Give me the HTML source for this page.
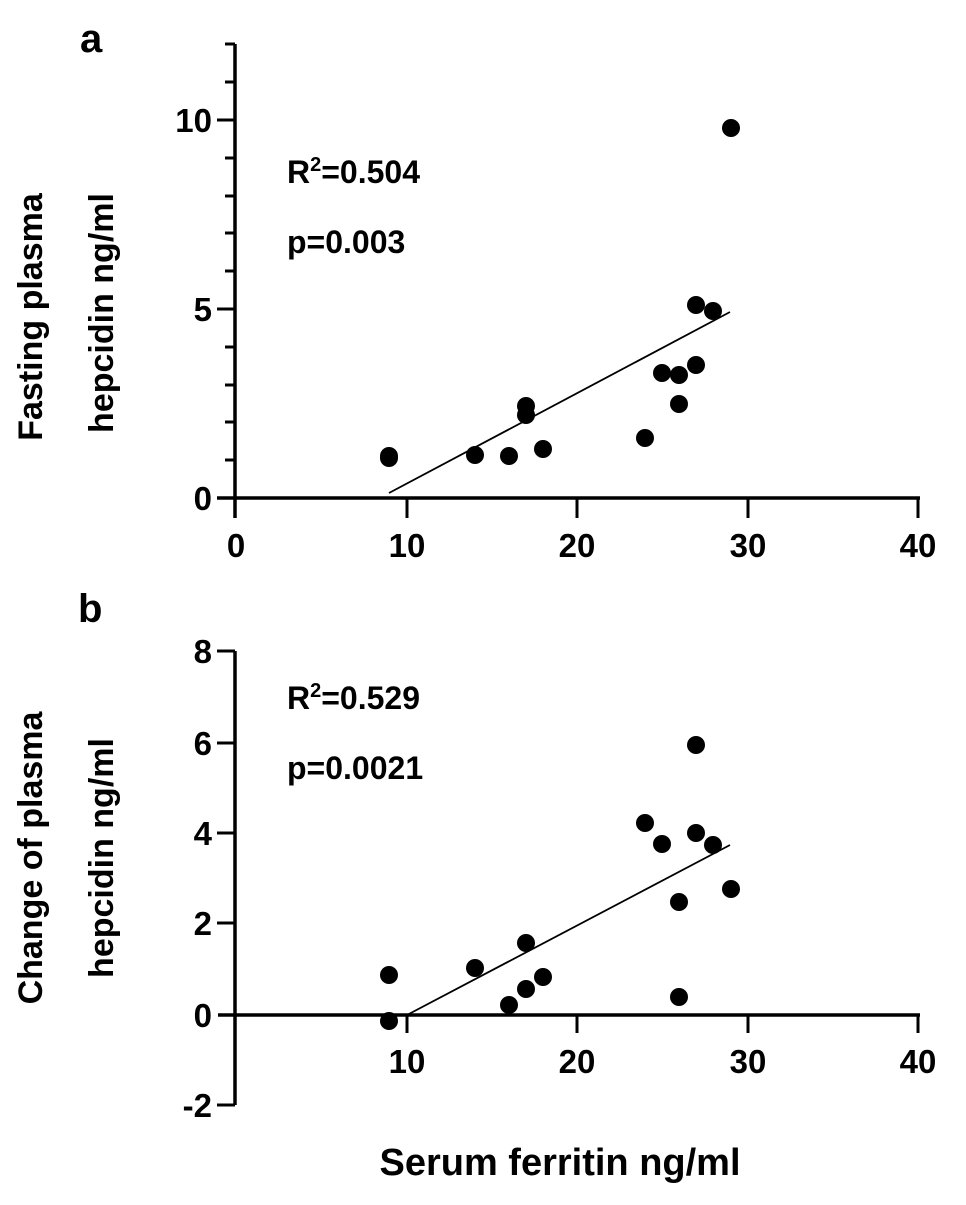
<!DOCTYPE html>
<html><head><style>body{margin:0;background:#fff}</style></head><body>
<svg width="966" height="1200" xmlns="http://www.w3.org/2000/svg" font-family="Liberation Sans, sans-serif" font-weight="bold">
<rect width="966" height="1200" fill="#fff"/>
<g stroke="#000" stroke-width="3.5" fill="none">
<!-- panel a -->
<line x1="235" y1="44" x2="235" y2="518"/>
<line x1="217" y1="498" x2="920" y2="498"/>
<g stroke-width="3">
<line x1="217" y1="120" x2="235" y2="120"/><line x1="217" y1="309" x2="235" y2="309"/>
<line x1="225" y1="44" x2="235" y2="44"/><line x1="225" y1="82" x2="235" y2="82"/>
<line x1="225" y1="158" x2="235" y2="158"/><line x1="225" y1="196" x2="235" y2="196"/>
<line x1="225" y1="233" x2="235" y2="233"/><line x1="225" y1="271" x2="235" y2="271"/>
<line x1="225" y1="347" x2="235" y2="347"/><line x1="225" y1="385" x2="235" y2="385"/>
<line x1="225" y1="422" x2="235" y2="422"/><line x1="225" y1="460" x2="235" y2="460"/>
<line x1="407" y1="498" x2="407" y2="518"/><line x1="577" y1="498" x2="577" y2="518"/>
<line x1="748" y1="498" x2="748" y2="518"/><line x1="918" y1="498" x2="918" y2="518"/>
</g>
<line x1="389" y1="493" x2="730" y2="312" stroke-width="1.8"/>
<!-- panel b -->
<line x1="235" y1="651" x2="235" y2="1105"/>
<line x1="218" y1="1015" x2="920" y2="1015"/>
<g stroke-width="3">
<line x1="217" y1="651" x2="235" y2="651"/><line x1="217" y1="743" x2="235" y2="743"/>
<line x1="217" y1="833" x2="235" y2="833"/><line x1="217" y1="923" x2="235" y2="923"/>
<line x1="217" y1="1105" x2="235" y2="1105"/>
<line x1="407" y1="1015" x2="407" y2="1033"/><line x1="577" y1="1015" x2="577" y2="1033"/>
<line x1="748" y1="1015" x2="748" y2="1033"/><line x1="918" y1="1015" x2="918" y2="1033"/>
</g>
<line x1="407" y1="1015" x2="730" y2="845" stroke-width="1.8"/>
</g>
<g fill="#000">
<circle cx="389" cy="458" r="9"/><circle cx="389" cy="456" r="9"/>
<circle cx="475" cy="455" r="9"/><circle cx="509" cy="456" r="9"/>
<circle cx="526" cy="415" r="9"/><circle cx="526" cy="406" r="9"/>
<circle cx="543" cy="449" r="9"/><circle cx="645" cy="438" r="9"/>
<circle cx="662" cy="373" r="9"/><circle cx="679" cy="375" r="9"/>
<circle cx="679" cy="404" r="9"/><circle cx="696" cy="305" r="9"/>
<circle cx="696" cy="365" r="9"/><circle cx="713" cy="311" r="9"/>
<circle cx="731" cy="128" r="9"/>
<circle cx="389" cy="975" r="9"/><circle cx="389" cy="1021" r="9"/>
<circle cx="475" cy="968" r="9"/><circle cx="509" cy="1005" r="9"/>
<circle cx="526" cy="943" r="9"/><circle cx="526" cy="989" r="9"/>
<circle cx="543" cy="977" r="9"/><circle cx="645" cy="823" r="9"/>
<circle cx="662" cy="844" r="9"/><circle cx="679" cy="902" r="9"/>
<circle cx="679" cy="997" r="9"/><circle cx="696" cy="745" r="9"/>
<circle cx="696" cy="833" r="9"/><circle cx="713" cy="845" r="9"/>
<circle cx="731" cy="889" r="9"/>
</g>
<g font-size="33" text-anchor="end">
<text x="212" y="132">10</text><text x="212" y="321">5</text><text x="212" y="510">0</text>
<text x="212" y="663">8</text><text x="212" y="755">6</text><text x="212" y="845">4</text>
<text x="212" y="935">2</text><text x="212" y="1027">0</text><text x="212" y="1117">-2</text>
</g>
<g font-size="33" text-anchor="middle">
<text x="236" y="557">0</text><text x="407" y="557">10</text><text x="577" y="557">20</text><text x="748" y="557">30</text><text x="918" y="557">40</text>
<text x="407" y="1073">10</text><text x="577" y="1073">20</text><text x="748" y="1073">30</text><text x="918" y="1073">40</text>
<text x="560" y="1175" font-size="38">Serum ferritin ng/ml</text>
</g>
<g font-size="34" text-anchor="middle">
<text transform="translate(42,317) rotate(-90)">Fasting plasma</text>
<text transform="translate(113,313) rotate(-90)">hepcidin ng/ml</text>
<text transform="translate(42,858) rotate(-90)">Change of plasma</text>
<text transform="translate(113,858) rotate(-90)">hepcidin ng/ml</text>
</g>
<g font-size="32">
<text x="287" y="183">R<tspan font-size="20" dy="-12">2</tspan><tspan dy="12">=0.504</tspan></text>
<text x="287" y="253">p=0.003</text>
<text x="287" y="709">R<tspan font-size="20" dy="-12">2</tspan><tspan dy="12">=0.529</tspan></text>
<text x="287" y="779">p=0.0021</text>
</g>
<text x="80" y="52" font-size="40">a</text>
<text x="78" y="622" font-size="40">b</text>
</svg>
</body></html>
